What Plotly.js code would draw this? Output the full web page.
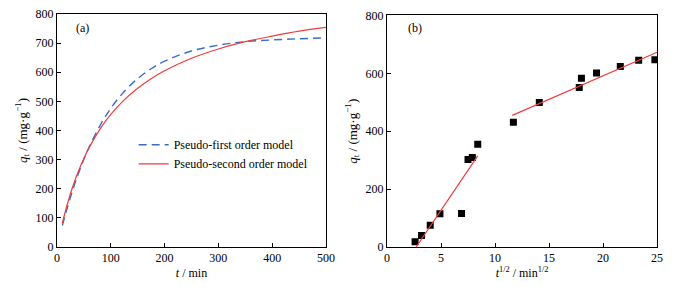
<!DOCTYPE html>
<html>
<head>
<meta charset="utf-8">
<script src="https://cdn.plot.ly/plotly-3.0.1.min.js"></script>
<style>html,body{margin:0;padding:0;background:#fff;}#chart{width:689px;height:287px;}</style>
</head>
<body>
<div id="chart"></div>
<script>
// Panel (a): model curves, time in min
const tA = [10, 20, 30, 40, 50, 60, 80, 100, 125, 150, 175, 200, 250, 300, 350, 400, 450, 500];
const qFirst = [74, 140, 200, 253, 301, 344, 417, 476, 534, 578, 612, 638, 673, 693, 705, 711, 715, 718];
const qSecond = [83, 152, 211, 261, 304, 342, 405, 455, 505, 545, 578, 605, 648, 680, 705, 724, 741, 754];

// Panel (b): intraparticle diffusion, t^1/2
const sqrtT = [2.6, 3.2, 4.0, 4.9, 6.9, 7.5, 7.9, 8.4, 11.7, 14.1, 17.8, 18.0, 19.4, 21.6, 23.3, 24.8];
const qB = [18, 40, 75, 115, 116, 302, 309, 355, 431, 499, 551, 583, 601, 624, 645, 647];
const fit1X = [2.7, 8.4];
const fit1Y = [0, 315];
const fit2X = [11.6, 25];
const fit2Y = [455, 673];

const legendNames = ['Pseudo-first order model', 'Pseudo-second order model'];

const blue = '#3a6cc6';
const red = '#f03c3c';
const fontFam = '"Liberation Serif", "Times New Roman", serif';

const traces = [
  {x: tA, y: qFirst, mode: 'lines', name: legendNames[0], line: {color: blue, width: 1.4, dash: '8px,5px', shape: 'spline'}, xaxis: 'x', yaxis: 'y'},
  {x: tA, y: qSecond, mode: 'lines', name: legendNames[1], line: {color: red, width: 1.2, shape: 'spline'}, xaxis: 'x', yaxis: 'y'},
  {x: sqrtT, y: qB, mode: 'markers', marker: {symbol: 'square', size: 7, color: '#000'}, showlegend: false, xaxis: 'x2', yaxis: 'y2'},
  {x: fit1X, y: fit1Y, mode: 'lines', line: {color: red, width: 1.2}, showlegend: false, xaxis: 'x2', yaxis: 'y2'},
  {x: fit2X, y: fit2Y, mode: 'lines', line: {color: red, width: 1.2}, showlegend: false, xaxis: 'x2', yaxis: 'y2'}
];

const axBase = {
  showline: true, mirror: true, linecolor: '#000', linewidth: 1,
  ticks: 'inside', ticklen: 4, tickcolor: '#000', tickwidth: 1,
  showgrid: false, zeroline: false,
  tickfont: {family: fontFam, size: 12, color: '#000'}
};

const layout = {
  width: 689, height: 287,
  margin: {l: 0, r: 0, t: 0, b: 0},
  paper_bgcolor: '#fff', plot_bgcolor: '#fff',
  font: {family: fontFam, size: 12, color: '#000'},
  showlegend: true,
  legend: {x: 0.194, y: 0.546, xanchor: 'left', yanchor: 'top', bgcolor: 'rgba(0,0,0,0)', font: {family: fontFam, size: 12}, tracegroupgap: 0},
  xaxis: Object.assign({}, axBase, {domain: [0.0827, 0.4731], range: [0, 500], dtick: 100, anchor: 'y',
    title: {text: '<i>t</i> / min', font: {family: fontFam, size: 12}, standoff: 4}}),
  yaxis: Object.assign({}, axBase, {domain: [0.1394, 0.9512], range: [0, 800], dtick: 100, anchor: 'x',
    title: {text: '<i>q</i><sub>t</sub> / (mg·g<sup>−1</sup>)', font: {family: fontFam, size: 13}, standoff: 5}}),
  xaxis2: Object.assign({}, axBase, {domain: [0.5617, 0.9536], range: [0, 25], dtick: 5, anchor: 'y2',
    title: {text: '<i>t</i><sup>1/2</sup> / min<sup>1/2</sup>', font: {family: fontFam, size: 12}, standoff: 4}}),
  yaxis2: Object.assign({}, axBase, {domain: [0.1394, 0.946], range: [0, 800], dtick: 200, anchor: 'x2',
    title: {text: '<i>q</i><sub>t</sub> / (mg·g<sup>−1</sup>)', font: {family: fontFam, size: 13}, standoff: 5}}),
  annotations: [
    {text: '(a)', xref: 'paper', yref: 'paper', x: 74/689, y: 1 - 28/287, xanchor: 'left', yanchor: 'middle', showarrow: false, font: {family: fontFam, size: 12}},
    {text: '(b)', xref: 'paper', yref: 'paper', x: 406/689, y: 1 - 28/287, xanchor: 'left', yanchor: 'middle', showarrow: false, font: {family: fontFam, size: 12}}
  ]
};

Plotly.newPlot('chart', traces, layout, {displayModeBar: false, staticPlot: true});
</script>
</body>
</html>
